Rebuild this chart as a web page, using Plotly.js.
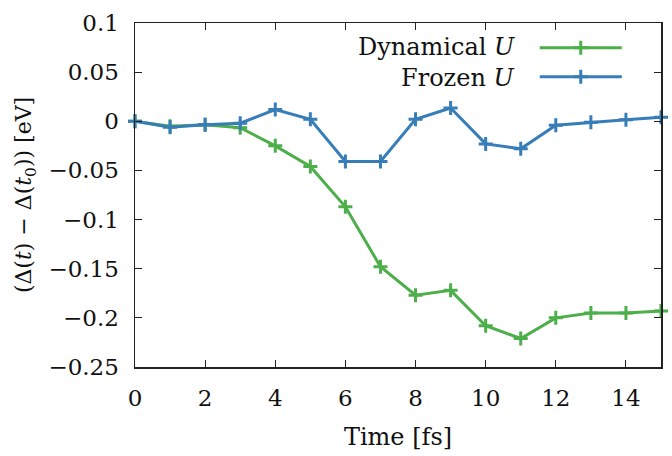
<!DOCTYPE html>
<html>
<head>
<meta charset="utf-8">
<script src="https://cdn.plot.ly/plotly-3.0.1.min.js"></script>
<style>html,body{margin:0;padding:0;background:#fff;}#chart{width:672px;height:456px;}</style>
</head>
<body>
<div id="chart"></div>
<script>
const time = [0, 1, 2, 3, 4, 5, 6, 7, 8, 9, 10, 11, 12, 13, 14, 15];
const dynamicalU = [0, -0.005, -0.0035, -0.0065, -0.025, -0.046, -0.087, -0.148, -0.177, -0.172, -0.208, -0.221, -0.200, -0.195, -0.195, -0.193];
const frozenU = [0, -0.006, -0.0035, -0.002, 0.012, 0.002, -0.041, -0.041, 0.002, 0.0135, -0.023, -0.028, -0.004, -0.001, 0.0015, 0.004];
const seriesNames = ["Dynamical <i>U</i>", "Frozen <i>U</i>"];
const xTicks = [0, 2, 4, 6, 8, 10, 12, 14];
const yTicks = [0.1, 0.05, 0, -0.05, -0.1, -0.15, -0.2, -0.25];

const green = "#4daf4a", blue = "#377eb8";
const font = "DejaVu Serif";

function trace(y, color) {
  return {
    x: time, y: y, type: "scatter", mode: "lines+markers", name: " ",
    line: {color: color, width: 3},
    marker: {symbol: "cross-thin", size: 10, color: color, line: {color: color, width: 3}},
    cliponaxis: false
  };
}
const data = [trace(dynamicalU, green), trace(frozenU, blue)];

const axisCommon = {
  showgrid: false, zeroline: false, showline: true, linecolor: "#222", linewidth: 1.5,
  mirror: "ticks", ticks: "inside", ticklen: 7, tickwidth: 1, tickcolor: "#222",
  tickfont: {family: font, size: 23, color: "#111"}
};

const layout = {
  width: 672, height: 456,
  margin: {l: 135, r: 11, t: 23, b: 89},
  paper_bgcolor: "#fff", plot_bgcolor: "#fff",
  font: {family: font, size: 23, color: "#111"},
  showlegend: true,
  legend: {x: 0.76, xanchor: "left", y: 0.985, yanchor: "top", bgcolor: "rgba(0,0,0,0)",
           font: {family: font, size: 20}, itemwidth: 82, tracegroupgap: 0},
  xaxis: Object.assign({}, axisCommon, {
    range: [0, 15], tickvals: xTicks, ticktext: xTicks.map(String), ticklabelstandoff: 10,
    title: {text: "Time [fs]", font: {family: font, size: 24}, standoff: 18}
  }),
  yaxis: Object.assign({}, axisCommon, {
    range: [-0.25, 0.1], tickvals: yTicks, ticklabelstandoff: 10,
    title: {text: "(Δ(<i>t</i>) − Δ(<i>t</i><sub>0</sub>)) [eV]", font: {family: font, size: 22}, standoff: 10}
  }),
  annotations: [
    {xref: "paper", yref: "paper", x: 0.727, y: 0.93, xanchor: "right", yanchor: "middle",
     text: seriesNames[0], showarrow: false, font: {family: font, size: 24, color: "#111"}},
    {xref: "paper", yref: "paper", x: 0.727, y: 0.84, xanchor: "right", yanchor: "middle",
     text: seriesNames[1], showarrow: false, font: {family: font, size: 24, color: "#111"}}
  ]
};

Plotly.newPlot("chart", data, layout, {staticPlot: true, displayModeBar: false});
</script>
</body>
</html>
